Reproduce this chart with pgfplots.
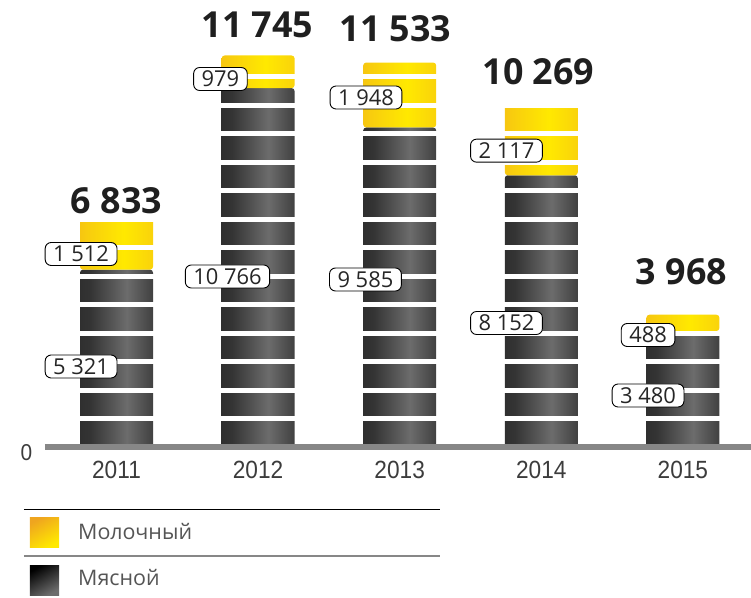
\documentclass[border=0pt]{standalone}
\usepackage{fontspec}
\setmainfont{Open Sans}
\newfontfamily\lib[FakeStretch=0.91]{Liberation Sans}
\usepackage{pgfplots}
\pgfplotsset{compat=1.18}
\definecolor{axisgray}{RGB}{135,135,135}
\definecolor{dk1}{RGB}{30,30,30}
\definecolor{dk3}{RGB}{52,52,52}
\definecolor{dk2}{RGB}{108,108,108}
\definecolor{dk4}{RGB}{22,22,22}
\definecolor{ye1}{RGB}{239,165,31}
\definecolor{ye3}{RGB}{248,205,14}
\definecolor{ye2}{RGB}{255,233,0}
\definecolor{legtext}{RGB}{85,85,85}
\definecolor{ticktext}{RGB}{60,60,60}
\pgfdeclarehorizontalshading{tire}{100bp}{color(0bp)=(dk1); color(32bp)=(dk3); color(57bp)=(dk2); color(80bp)=(dk3); color(100bp)=(dk4)}
\pgfdeclarehorizontalshading{milk}{100bp}{color(0bp)=(ye1); color(30bp)=(ye3); color(55bp)=(ye2); color(80bp)=(ye3); color(100bp)=(ye1)}
\begin{document}
\begin{tikzpicture}[
  total/.style={font=\bfseries\fontsize{36}{40}\selectfont, text=black!88, inner sep=0pt, text height=25.7bp, text depth=0pt, anchor=center},
  vlab/.style={draw=black, line width=0.9bp, fill=white, rounded corners=6bp, inner xsep=8bp, inner ysep=0pt, minimum height=23bp, text height=15.7bp, text depth=0pt, font=\fontsize{22}{26}\selectfont, text=black!85, anchor=center},
  legt/.style={font=\fontsize{21.5}{26}\selectfont, text=legtext, anchor=west, inner sep=0pt, text height=15.3bp, text depth=0pt},
  meat/.style={draw=none, shading=tire, rounded corners=3bp},
  dairy/.style={draw=none, shading=milk, rounded corners=3bp}
]
\begin{axis}[
  scale only axis, width=706bp, height=447bp,
  xmin=-0.505, xmax=4.481, ymin=0, ymax=13410,
  axis on top,
  axis lines*=left,
  x axis line style={draw=axisgray, line width=5bp, -},
  y axis line style={draw=none},
  xtick={0,1,2,3,4}, xticklabels={2011,2012,2013,2014,2015},
  ytick={0}, yticklabels={0},
  scaled y ticks=false,
  extra y ticks={840,1695,2550,3405,4260,5115,5970,6825,7680,8535,9390,10245,11100,11955,12810},
  extra y tick style={grid=major, yticklabel={}},
  major grid style={white, line width=5bp},
  major tick length=0pt,
  xticklabel style={font=\lib\fontsize{25}{29}\selectfont, text=ticktext, anchor=center, yshift=-23bp, inner sep=0pt, text height=17.9bp, text depth=0pt},
  yticklabel style={font=\lib\fontsize{23}{27}\selectfont, text=ticktext, anchor=center, xshift=-18.5bp, yshift=-5.5bp, inner sep=0pt, text height=16.4bp, text depth=0pt},
]
% Мясной: 5321, 10766, 9585, 8152, 3480
\addplot[meat] coordinates {(-0.2578,0) (-0.2578,5321) (0.2578,5321) (0.2578,0)} -- cycle;
\addplot[meat] coordinates {(0.7422,0) (0.7422,10766) (1.2578,10766) (1.2578,0)} -- cycle;
\addplot[meat] coordinates {(1.7422,0) (1.7422,9585) (2.2578,9585) (2.2578,0)} -- cycle;
\addplot[meat] coordinates {(2.7422,0) (2.7422,8152) (3.2578,8152) (3.2578,0)} -- cycle;
\addplot[meat] coordinates {(3.7422,0) (3.7422,3480) (4.2578,3480) (4.2578,0)} -- cycle;
% Молочный: 1512, 979, 1948, 2117, 488 (stacked on top; totals 6833, 11745, 11533, 10269, 3968)
\addplot[dairy] coordinates {(-0.2578,5321) (-0.2578,6833) (0.2578,6833) (0.2578,5321)} -- cycle;
\addplot[dairy] coordinates {(0.7422,10766) (0.7422,11745) (1.2578,11745) (1.2578,10766)} -- cycle;
\addplot[dairy] coordinates {(1.7422,9585) (1.7422,11533) (2.2578,11533) (2.2578,9585)} -- cycle;
\addplot[dairy] coordinates {(2.7422,8152) (2.7422,10269) (3.2578,10269) (3.2578,8152)} -- cycle;
\addplot[dairy] coordinates {(3.7422,3480) (3.7422,3968) (4.2578,3968) (4.2578,3480)} -- cycle;
\coordinate (t0) at (axis cs:0,7380);
\coordinate (t1) at (axis cs:0.996,12660);
\coordinate (t2) at (axis cs:1.97,12560);
\coordinate (t3) at (axis cs:2.98,11265);
\coordinate (t4) at (axis cs:3.99,5265);
\coordinate (d0) at (axis cs:-0.25,5790);
\coordinate (m0) at (axis cs:-0.25,2415);
\coordinate (d1) at (axis cs:0.734,11040);
\coordinate (m1) at (axis cs:0.784,5115);
\coordinate (d2) at (axis cs:1.762,10485);
\coordinate (m2) at (axis cs:1.758,5025);
\coordinate (d3) at (axis cs:2.754,8890);
\coordinate (m3) at (axis cs:2.754,3720);
\coordinate (d4) at (axis cs:3.754,3360);
\coordinate (m4) at (axis cs:3.754,1545);
\end{axis}
\node[total] at (t0) {6~833};
\node[total] at (t1) {11~745};
\node[total] at (t2) {11~533};
\node[total] at (t3) {10~269};
\node[total] at (t4) {3~968};
\node[vlab] at (d0) {1~512};
\node[vlab] at (m0) {5~321};
\node[vlab] at (d1) {979};
\node[vlab] at (m1) {10~766};
\node[vlab] at (d2) {1~948};
\node[vlab] at (m2) {9~585};
\node[vlab] at (d3) {2~117};
\node[vlab] at (m3) {8~152};
\node[vlab] at (d4) {488};
\node[vlab] at (m4) {3~480};
% legend
\draw[black, line width=0.8bp] (-21bp,-62bp) -- (395bp,-62bp);
\draw[axisgray, line width=1.5bp] (-21bp,-109bp) -- (395bp,-109bp);
\shade[top color=ye1, bottom color=ye2, shading angle=30] (-15bp,-70bp) rectangle (14bp,-100bp);
\shade[top color=black, bottom color=dk2, shading angle=30] (-15bp,-118bp) rectangle (14bp,-148bp);
\node[legt] at (33bp,-85bp) {Молочный};
\node[legt] at (33bp,-131bp) {Мясной};
\pgfresetboundingbox
\path[use as bounding box] (-45bp,-151bp) rectangle (706bp,447bp);
\end{tikzpicture}
\end{document}
